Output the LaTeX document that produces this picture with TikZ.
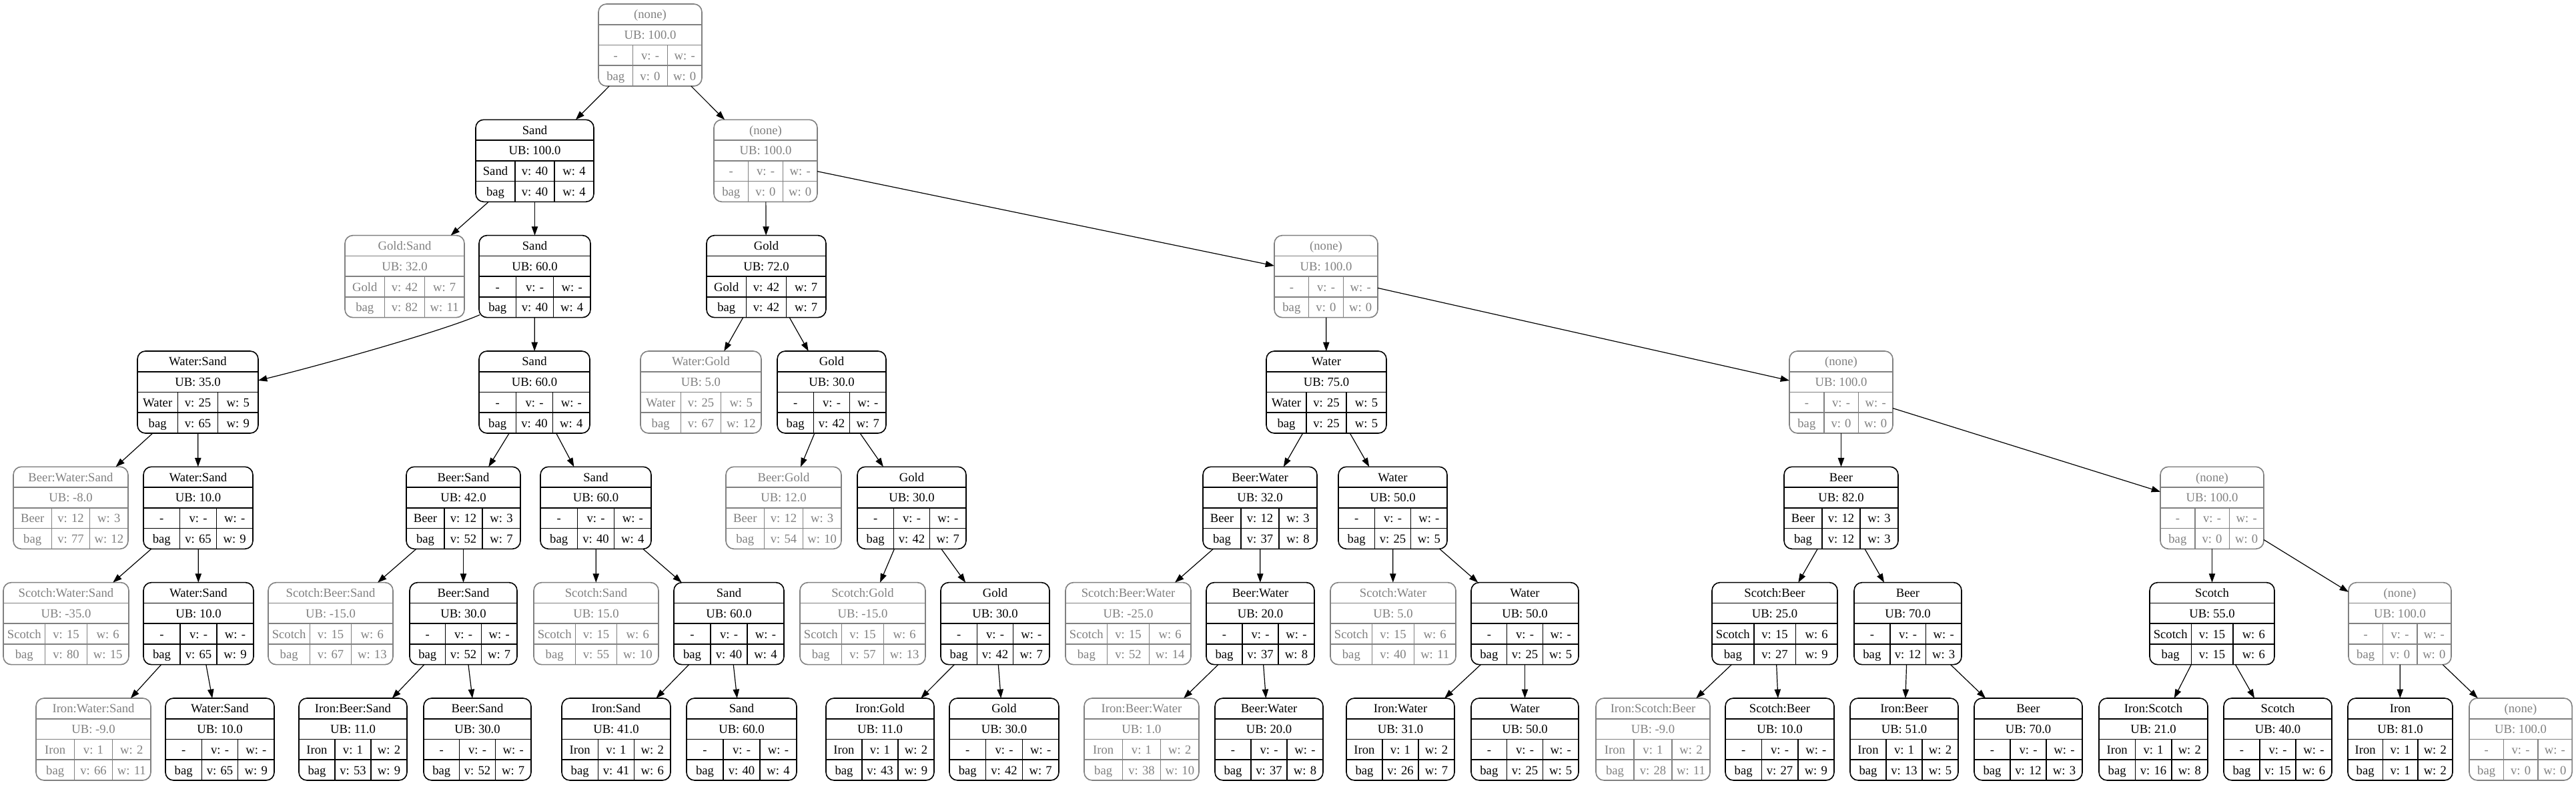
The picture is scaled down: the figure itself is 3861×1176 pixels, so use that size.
\documentclass[tikz,border=0pt]{standalone}
\usepackage{fontspec}
\setmainfont{Liberation Serif}
\usetikzlibrary{arrows.meta}
\definecolor{gvgray}{RGB}{128,128,128}
\newlength\gvtmp
\newcommand\gvfont{\fontsize{14pt}{16pt}\selectfont}
\def\gvsplit#1|#2|#3\gvend{\def\gvA{#1}\def\gvB{#2}\def\gvC{#3}}
\newcommand\gvnat[2]{\settowidth\gvtmp{\gvfont #2}\pgfmathsetmacro#1{\gvtmp+16}}
\tikzset{
  gk/.style={color=black},
  gg/.style={color=gvgray},
  gvline/.style={line width=1.2pt},
  gvtext/.style={anchor=base, inner sep=0pt, outer sep=0pt, font=\gvfont},
  gvedge/.style={draw=black, line width=0.9pt, -{Triangle[length=10pt,width=7pt]}},
}
% one row of three cells: #1 colour style, #2 cells a|b|c, #3 top of the row
\newcommand\gvrow[3]{%
  \gvsplit#2\gvend
  \gvnat\gvna{\gvA}\gvnat\gvnb{\gvB}\gvnat\gvnc{\gvC}%
  \pgfmathsetmacro\gvex{(\gvW-\gvna-\gvnb-\gvnc)/3}%
  \pgfmathsetmacro\gvdA{\gvL+(\gvna+\gvex)/0.75}%
  \pgfmathsetmacro\gvdB{\gvL+(\gvna+\gvnb+2*\gvex)/0.75}%
  \draw[#1, gvline] (\gvdA,#3) -- (\gvdA,#3+30.75) (\gvdB,#3) -- (\gvdB,#3+30.75);
  \node[gvtext,#1] at ({(\gvL+\gvdA)/2},#3+21.9) {\gvA};
  \node[gvtext,#1] at ({(\gvdA+\gvdB)/2},#3+21.9) {\gvB};
  \node[gvtext,#1] at ({(\gvdB+\gvR)/2},#3+21.9) {\gvC};
}
% record node: #1 name, #2 colour, #3 left, #4 right, #5 level, #6 title, #7 UB, #8 row 3, #9 row 4
\newcommand\gvnode[9]{%
  \pgfmathsetmacro\gvL{#3}\pgfmathsetmacro\gvR{#4}%
  \pgfmathsetmacro\gvT{6+173.33*#5}%
  \pgfmathsetmacro\gvW{(#4-#3)*0.75}%
  \node[minimum width=\gvW pt, minimum height=92.25pt, inner sep=0pt, outer sep=0pt, anchor=north west] (#1) at (\gvL,\gvT) {};
  \draw[#2, gvline, rounded corners=9pt] (\gvL,\gvT) rectangle (\gvR,\gvT+123);
  \draw[#2, gvline] (\gvL,\gvT+30.75) -- (\gvR,\gvT+30.75) (\gvL,\gvT+61.5) -- (\gvR,\gvT+61.5) (\gvL,\gvT+92.25) -- (\gvR,\gvT+92.25);
  \node[gvtext,#2] at ({(\gvL+\gvR)/2},\gvT+21.9) {#6};
  \node[gvtext,#2] at ({(\gvL+\gvR)/2},\gvT+52.65) {#7};
  \gvrow{#2}{#8}{\gvT+61.5}
  \gvrow{#2}{#9}{\gvT+92.25}
}
\begin{document}
\begin{tikzpicture}[x=0.75pt, y=-0.75pt]
\useasboundingbox (0,0) rectangle (3861,1176);
% level 0
\gvnode{r0}{gg}{897}{1052}{0}{(none)}{UB: 100.0}{-|v: -|w: -}{bag|v: 0|w: 0}
% level 1
\gvnode{a1}{gk}{713}{890}{1}{Sand}{UB: 100.0}{Sand|v: 40|w: 4}{bag|v: 40|w: 4}
\gvnode{b1}{gg}{1070}{1225}{1}{(none)}{UB: 100.0}{-|v: -|w: -}{bag|v: 0|w: 0}
% level 2
\gvnode{a2}{gg}{517}{696}{2}{Gold:Sand}{UB: 32.0}{Gold|v: 42|w: 7}{bag|v: 82|w: 11}
\gvnode{b2}{gk}{718}{885}{2}{Sand}{UB: 60.0}{-|v: -|w: -}{bag|v: 40|w: 4}
\gvnode{c2}{gk}{1059}{1238}{2}{Gold}{UB: 72.0}{Gold|v: 42|w: 7}{bag|v: 42|w: 7}
\gvnode{d2}{gg}{1910}{2065}{2}{(none)}{UB: 100.0}{-|v: -|w: -}{bag|v: 0|w: 0}
% level 3
\gvnode{a3}{gk}{206}{387}{3}{Water:Sand}{UB: 35.0}{Water|v: 25|w: 5}{bag|v: 65|w: 9}
\gvnode{b3}{gk}{718}{884}{3}{Sand}{UB: 60.0}{-|v: -|w: -}{bag|v: 40|w: 4}
\gvnode{c3}{gg}{960}{1141}{3}{Water:Gold}{UB: 5.0}{Water|v: 25|w: 5}{bag|v: 67|w: 12}
\gvnode{d3}{gk}{1165}{1328}{3}{Gold}{UB: 30.0}{-|v: -|w: -}{bag|v: 42|w: 7}
\gvnode{e3}{gk}{1898}{2078}{3}{Water}{UB: 75.0}{Water|v: 25|w: 5}{bag|v: 25|w: 5}
\gvnode{f3}{gg}{2682}{2837}{3}{(none)}{UB: 100.0}{-|v: -|w: -}{bag|v: 0|w: 0}
% level 4
\gvnode{a4}{gg}{20}{192}{4}{Beer:Water:Sand}{UB: -8.0}{Beer|v: 12|w: 3}{bag|v: 77|w: 12}
\gvnode{b4}{gk}{215}{379}{4}{Water:Sand}{UB: 10.0}{-|v: -|w: -}{bag|v: 65|w: 9}
\gvnode{c4}{gk}{609}{780}{4}{Beer:Sand}{UB: 42.0}{Beer|v: 12|w: 3}{bag|v: 52|w: 7}
\gvnode{d4}{gk}{810}{976}{4}{Sand}{UB: 60.0}{-|v: -|w: -}{bag|v: 40|w: 4}
\gvnode{e4}{gg}{1088}{1261}{4}{Beer:Gold}{UB: 12.0}{Beer|v: 12|w: 3}{bag|v: 54|w: 10}
\gvnode{f4}{gk}{1285}{1448}{4}{Gold}{UB: 30.0}{-|v: -|w: -}{bag|v: 42|w: 7}
\gvnode{g4}{gk}{1803}{1974}{4}{Beer:Water}{UB: 32.0}{Beer|v: 12|w: 3}{bag|v: 37|w: 8}
\gvnode{h4}{gk}{2006}{2169}{4}{Water}{UB: 50.0}{-|v: -|w: -}{bag|v: 25|w: 5}
\gvnode{i4}{gk}{2674}{2845}{4}{Beer}{UB: 82.0}{Beer|v: 12|w: 3}{bag|v: 12|w: 3}
\gvnode{j4}{gg}{3238}{3393}{4}{(none)}{UB: 100.0}{-|v: -|w: -}{bag|v: 0|w: 0}
% level 5
\gvnode{a5}{gg}{5}{193}{5}{Scotch:Water:Sand}{UB: -35.0}{Scotch|v: 15|w: 6}{bag|v: 80|w: 15}
\gvnode{b5}{gk}{215}{380}{5}{Water:Sand}{UB: 10.0}{-|v: -|w: -}{bag|v: 65|w: 9}
\gvnode{c5}{gg}{402}{589}{5}{Scotch:Beer:Sand}{UB: -15.0}{Scotch|v: 15|w: 6}{bag|v: 67|w: 13}
\gvnode{d5}{gk}{614}{775}{5}{Beer:Sand}{UB: 30.0}{-|v: -|w: -}{bag|v: 52|w: 7}
\gvnode{e5}{gg}{800}{987}{5}{Scotch:Sand}{UB: 15.0}{Scotch|v: 15|w: 6}{bag|v: 55|w: 10}
\gvnode{f5}{gk}{1010}{1175}{5}{Sand}{UB: 60.0}{-|v: -|w: -}{bag|v: 40|w: 4}
\gvnode{g5}{gg}{1199}{1387}{5}{Scotch:Gold}{UB: -15.0}{Scotch|v: 15|w: 6}{bag|v: 57|w: 13}
\gvnode{h5}{gk}{1410}{1573}{5}{Gold}{UB: 30.0}{-|v: -|w: -}{bag|v: 42|w: 7}
\gvnode{i5}{gg}{1597}{1785}{5}{Scotch:Beer:Water}{UB: -25.0}{Scotch|v: 15|w: 6}{bag|v: 52|w: 14}
\gvnode{j5}{gk}{1808}{1970}{5}{Beer:Water}{UB: 20.0}{-|v: -|w: -}{bag|v: 37|w: 8}
\gvnode{k5}{gg}{1994}{2182}{5}{Scotch:Water}{UB: 5.0}{Scotch|v: 15|w: 6}{bag|v: 40|w: 11}
\gvnode{l5}{gk}{2205}{2366}{5}{Water}{UB: 50.0}{-|v: -|w: -}{bag|v: 25|w: 5}
\gvnode{m5}{gk}{2566}{2754}{5}{Scotch:Beer}{UB: 25.0}{Scotch|v: 15|w: 6}{bag|v: 27|w: 9}
\gvnode{n5}{gk}{2779}{2940}{5}{Beer}{UB: 70.0}{-|v: -|w: -}{bag|v: 12|w: 3}
\gvnode{o5}{gk}{3222}{3409}{5}{Scotch}{UB: 55.0}{Scotch|v: 15|w: 6}{bag|v: 15|w: 6}
\gvnode{p5}{gg}{3520}{3674}{5}{(none)}{UB: 100.0}{-|v: -|w: -}{bag|v: 0|w: 0}
% level 6
\gvnode{a6}{gg}{54}{226}{6}{Iron:Water:Sand}{UB: -9.0}{Iron|v: 1|w: 2}{bag|v: 66|w: 11}
\gvnode{b6}{gk}{248}{411}{6}{Water:Sand}{UB: 10.0}{-|v: -|w: -}{bag|v: 65|w: 9}
\gvnode{c6}{gk}{448}{610}{6}{Iron:Beer:Sand}{UB: 11.0}{Iron|v: 1|w: 2}{bag|v: 53|w: 9}
\gvnode{d6}{gk}{635}{796}{6}{Beer:Sand}{UB: 30.0}{-|v: -|w: -}{bag|v: 52|w: 7}
\gvnode{e6}{gk}{842}{1005}{6}{Iron:Sand}{UB: 41.0}{Iron|v: 1|w: 2}{bag|v: 41|w: 6}
\gvnode{f6}{gk}{1029}{1194}{6}{Sand}{UB: 60.0}{-|v: -|w: -}{bag|v: 40|w: 4}
\gvnode{g6}{gk}{1238}{1400}{6}{Iron:Gold}{UB: 11.0}{Iron|v: 1|w: 2}{bag|v: 43|w: 9}
\gvnode{h6}{gk}{1423}{1587}{6}{Gold}{UB: 30.0}{-|v: -|w: -}{bag|v: 42|w: 7}
\gvnode{i6}{gg}{1625}{1797}{6}{Iron:Beer:Water}{UB: 1.0}{Iron|v: 1|w: 2}{bag|v: 38|w: 10}
\gvnode{j6}{gk}{1821}{1983}{6}{Beer:Water}{UB: 20.0}{-|v: -|w: -}{bag|v: 37|w: 8}
\gvnode{k6}{gk}{2018}{2180}{6}{Iron:Water}{UB: 31.0}{Iron|v: 1|w: 2}{bag|v: 26|w: 7}
\gvnode{l6}{gk}{2205}{2366}{6}{Water}{UB: 50.0}{-|v: -|w: -}{bag|v: 25|w: 5}
\gvnode{m6}{gg}{2392}{2563}{6}{Iron:Scotch:Beer}{UB: -9.0}{Iron|v: 1|w: 2}{bag|v: 28|w: 11}
\gvnode{n6}{gk}{2586}{2749}{6}{Scotch:Beer}{UB: 10.0}{-|v: -|w: -}{bag|v: 27|w: 9}
\gvnode{o6}{gk}{2773}{2935}{6}{Iron:Beer}{UB: 51.0}{Iron|v: 1|w: 2}{bag|v: 13|w: 5}
\gvnode{p6}{gk}{2959}{3121}{6}{Beer}{UB: 70.0}{-|v: -|w: -}{bag|v: 12|w: 3}
\gvnode{q6}{gk}{3146}{3309}{6}{Iron:Scotch}{UB: 21.0}{Iron|v: 1|w: 2}{bag|v: 16|w: 8}
\gvnode{r6}{gk}{3333}{3495}{6}{Scotch}{UB: 40.0}{-|v: -|w: -}{bag|v: 15|w: 6}
\gvnode{s6}{gk}{3519}{3676}{6}{Iron}{UB: 81.0}{Iron|v: 1|w: 2}{bag|v: 1|w: 2}
\gvnode{t6}{gg}{3701}{3855}{6}{(none)}{UB: 100.0}{-|v: -|w: -}{bag|v: 0|w: 0}
% edges
\foreach \p/\c in {r0/a1,r0/b1,a1/a2,a1/b2,b1/c2,b1/d2,b2/b3,c2/c3,c2/d3,d2/e3,d2/f3,
  a3/a4,a3/b4,b3/c4,b3/d4,d3/e4,d3/f4,e3/g4,e3/h4,f3/i4,f3/j4,
  b4/a5,b4/b5,c4/c5,c4/d5,d4/e5,d4/f5,f4/g5,f4/h5,g4/i5,g4/j5,h4/k5,h4/l5,i4/m5,i4/n5,j4/o5,j4/p5,
  b5/a6,b5/b6,d5/c6,d5/d6,f5/e6,f5/f6,h5/g6,h5/h6,j5/i6,j5/j6,l5/k6,l5/l6,m5/m6,m5/n6,n5/o6,n5/p6,o5/q6,o5/r6,p5/s6,p5/t6}
  \draw[gvedge] (\p) -- (\c);
\draw[gvedge] ([shift={(1,-4)}]b2.south west) .. controls +(-57,25) and +(83,-20) .. ([shift={(0,-17.5)}]a3.east);
\end{tikzpicture}
\end{document}
